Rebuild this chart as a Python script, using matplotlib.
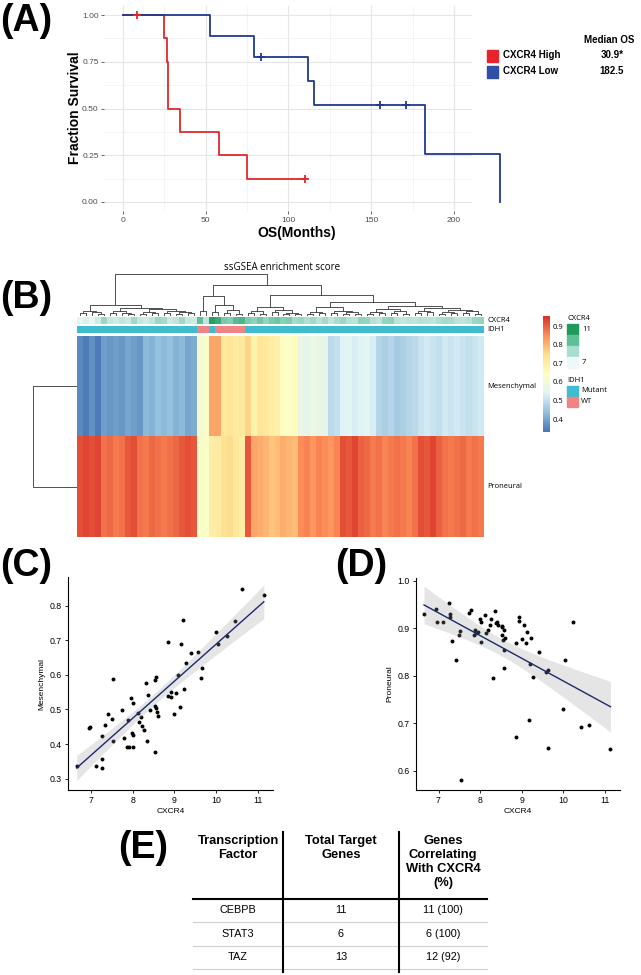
import numpy as np
import matplotlib
matplotlib.use('Agg')
import matplotlib.pyplot as plt
from matplotlib.colors import LinearSegmentedColormap, ListedColormap
from matplotlib.patches import Rectangle

plt.rcParams['font.family'] = ['Liberation Sans', 'DejaVu Sans']

# ---------------- DATA ----------------
# (A) Kaplan-Meier: survival times (months) and event flags (1=death, 0=censored)
high_times = [8.3, 24.5, 26.4, 27.3, 27.3, 34.4, 58.0, 75.0, 110.0]
high_events = [0, 1, 1, 1, 1, 1, 1, 1, 0]
low_times = [52.6, 79.0, 83.6, 112.0, 115.4, 155.3, 171.0, 182.5, 227.8]
low_events = [1, 1, 0, 1, 1, 0, 0, 1, 1]
km_groups = ['CXCR4 High', 'CXCR4 Low']
median_os = ['30.9*', '182.5']

# (B) heatmap of ssGSEA scores (68 samples, clustered order)
mes_scores = [0.36, 0.34, 0.37, 0.34, 0.39, 0.38, 0.39, 0.38, 0.40, 0.39, 0.38, 0.43, 0.42, 0.44,
              0.43, 0.44, 0.42, 0.43, 0.40, 0.41, 0.61, 0.62, 0.82, 0.82, 0.72, 0.73, 0.71, 0.72,
              0.76, 0.68, 0.73, 0.72, 0.70, 0.69, 0.64, 0.63, 0.65, 0.57, 0.56, 0.58, 0.57, 0.56,
              0.49, 0.50, 0.54, 0.55, 0.53, 0.54, 0.55, 0.53, 0.48, 0.47, 0.48, 0.46, 0.47, 0.48,
              0.49, 0.51, 0.52, 0.51, 0.50, 0.52, 0.51, 0.52, 0.51, 0.50, 0.51, 0.52]
pro_scores = [0.92, 0.93, 0.92, 0.93, 0.88, 0.89, 0.87, 0.88, 0.91, 0.92, 0.88, 0.87, 0.89, 0.88,
              0.87, 0.88, 0.89, 0.91, 0.92, 0.91, 0.62, 0.63, 0.70, 0.71, 0.74, 0.75, 0.72, 0.70,
              0.91, 0.82, 0.81, 0.80, 0.78, 0.79, 0.81, 0.80, 0.79, 0.85, 0.86, 0.84, 0.86, 0.85,
              0.84, 0.86, 0.92, 0.91, 0.93, 0.90, 0.89, 0.87, 0.88, 0.86, 0.87, 0.88, 0.87, 0.86,
              0.88, 0.92, 0.91, 0.93, 0.90, 0.88, 0.87, 0.88, 0.89, 0.87, 0.88, 0.87]
cxcr4_annot = [7.2, 7.4, 7.1, 7.6, 8.6, 7.8, 7.6, 7.9, 7.7, 8.5, 7.8, 7.6, 7.9, 8.6, 8.4, 7.7, 7.9,
               8.5, 7.8, 7.6, 9.6, 7.9, 10.8, 10.4, 9.2, 9.0, 9.8, 10.0, 9.1, 8.8, 9.3, 8.7, 9.2,
               9.4, 8.9, 9.1, 8.4, 8.6, 8.2, 8.5, 8.0, 8.4, 7.9, 8.3, 8.6, 8.1, 8.0, 8.8, 8.7, 8.1,
               7.9, 8.7, 8.8, 8.0, 7.8, 8.0, 7.9, 8.1, 8.0, 7.9, 8.2, 8.4, 8.3, 8.0, 7.9, 8.1, 8.6, 8.7]
idh1_wt = [0] * 20 + [1, 1, 0, 1, 1, 1, 1, 1] + [0] * 40
row_names = ['Mesenchymal', 'Proneural']
# column dendrogram: [height, left, right], leaves = column index
col_tree = [42,
            [11, [5, [3, 0, 1], [4, 2, [2, 3, 4]]],
                 [8, [5, [3, 5, 6], [3, 7, [2, 8, 9]]],
                     [7, [4, [2, 10, 11], [3, 12, 13]], [5, [3, 14, 15], [4, [2, 16, 17], [3, 18, 19]]]]]],
            [31,
             [20, [5, 20, 21], [11, [4, 22, 23], [6, [3, 24, 25], [2, 26, 27]]]],
             [21,
              [9, [5, [3, 28, 29], [2, 30, 31]], [6, [4, 32, 33], [3, [2, 34, 35], [2, 36, 37]]]],
              [14,
               [9, [4, [2, 38, 39], [3, 40, 41]], [5, [3, 42, 43], [4, [2, 44, 45], [2, 46, 47]]]],
               [10, [7, [4, [2, 48, 49], [3, 50, 51]], [5, [3, 52, 53], [2, 54, 55]]],
                    [8, [5, [3, 56, 57], [4, 58, 59]],
                        [6, [4, [2, 60, 61], [3, 62, 63]], [5, [3, 64, 65], [2, 66, 67]]]]]]]]]
row_tree = [1, 0, 1]

# (C) CXCR4 vs Mesenchymal
c_x = [6.66, 6.96, 6.98, 7.12, 7.26, 7.27, 7.27, 7.33, 7.42, 7.50, 7.54, 7.54, 7.74, 7.79, 7.87,
       7.92, 8.00, 7.90, 7.96, 7.98, 8.02, 8.01, 8.14, 8.15, 8.19, 8.23, 8.27, 8.34, 8.32, 8.37,
       8.42, 8.54, 8.57, 8.54, 8.54, 8.56, 8.58, 8.62, 8.84, 8.86, 8.92, 8.93, 9.00, 9.05, 9.10,
       9.13, 9.17, 9.21, 9.23, 9.28, 9.40, 9.58, 9.66, 9.65, 10.00, 10.05, 10.27, 10.46, 10.63, 11.15]
c_y = [0.336, 0.447, 0.450, 0.337, 0.331, 0.358, 0.424, 0.455, 0.487, 0.471, 0.587, 0.409, 0.497,
       0.416, 0.391, 0.392, 0.391, 0.470, 0.534, 0.431, 0.427, 0.518, 0.491, 0.465, 0.479, 0.452,
       0.441, 0.409, 0.576, 0.542, 0.497, 0.585, 0.595, 0.378, 0.510, 0.503, 0.494, 0.481, 0.696,
       0.540, 0.550, 0.535, 0.487, 0.548, 0.600, 0.508, 0.690, 0.760, 0.560, 0.635, 0.663, 0.666,
       0.620, 0.590, 0.725, 0.688, 0.712, 0.757, 0.847, 0.830]

# (D) CXCR4 vs Proneural
d_x = [6.65, 6.95, 6.97, 7.11, 7.26, 7.27, 7.28, 7.32, 7.50, 7.52, 7.42, 7.54, 7.74, 7.79, 7.88,
       7.91, 7.86, 7.96, 8.00, 8.02, 8.02, 8.13, 8.18, 8.15, 8.26, 8.23, 8.37, 8.38, 8.41, 8.43,
       8.32, 8.52, 8.54, 8.52, 8.55, 8.58, 8.61, 8.58, 8.58, 8.87, 8.86, 8.94, 8.94, 9.01, 9.06,
       9.10, 9.13, 9.22, 9.17, 9.21, 9.27, 9.41, 9.58, 9.64, 9.64, 10.00, 10.05, 10.25, 10.44,
       10.62, 11.14]
d_y = [0.931, 0.940, 0.914, 0.914, 0.953, 0.930, 0.923, 0.873, 0.885, 0.894, 0.833, 0.580, 0.933,
       0.938, 0.897, 0.889, 0.885, 0.892, 0.919, 0.913, 0.871, 0.928, 0.897, 0.890, 0.919, 0.907,
       0.936, 0.912, 0.914, 0.907, 0.796, 0.904, 0.902, 0.886, 0.876, 0.897, 0.880, 0.854, 0.817,
       0.870, 0.670, 0.923, 0.916, 0.878, 0.907, 0.870, 0.892, 0.879, 0.706, 0.825, 0.798, 0.851,
       0.808, 0.811, 0.648, 0.729, 0.833, 0.914, 0.691, 0.696, 0.646]

# (E) table
tf_names = ['CEBPB', 'STAT3', 'TAZ']
total_targets = [11, 6, 13]
correlating = [11, 6, 12]
correlating_pct = [100, 100, 92]
table_headers = ['Transcription\nFactor', 'Total Target\nGenes', 'Genes\nCorrelating\nWith CXCR4\n(%)']

# ---------------- FIGURE ----------------
W, H = 641, 975
fig = plt.figure(figsize=(W / 100, H / 100), dpi=100)


def px_axes(x0, y0, x1, y1):
    return fig.add_axes([x0 / W, 1 - y1 / H, (x1 - x0) / W, (y1 - y0) / H])


def ftext(x, y, s, **kw):
    return fig.text(x / W, 1 - y / H, s, **kw)


# panel labels
for lab, x, y in [('(A)', 0, 21), ('(B)', 0, 298), ('(C)', 0, 566), ('(D)', 335, 566), ('(E)', 118, 848)]:
    ftext(x, y, lab, fontsize=27, fontweight='bold', ha='left', va='center')

# ---------------- (A) ----------------
RED, BLUE = '#e3262b', '#1f3a8f'


def km(times, events):
    t = np.asarray(times, float)
    e = np.asarray(events)
    n = len(t)
    s = 1.0
    xs, ys, cx, cy = [0.0], [1.0], [], []
    for u in np.unique(t):
        d = int(np.sum((t == u) & (e == 1)))
        c = int(np.sum((t == u) & (e == 0)))
        if d:
            s *= (n - d) / n
        xs.append(u)
        ys.append(s)
        if c:
            cx.append(u)
            cy.append(s)
        n -= d + c
    return xs, ys, cx, cy


axA = px_axes(104.3, 5.65, 472, 211.35)
axA.set_xlim(-11.3, 210.9)
axA.set_ylim(-0.05, 1.05)
for times, events, col in [(high_times, high_events, RED), (low_times, low_events, BLUE)]:
    xs, ys, cx, cy = km(times, events)
    axA.step(xs, ys, where='post', color=col, lw=1.3, clip_on=False, zorder=3)
    axA.plot(cx, cy, '+', color=col, ms=6, mew=1.3, clip_on=False, zorder=4)
axA.set_xticks([0, 50, 100, 150, 200])
axA.set_xticks([25, 75, 125, 175], minor=True)
axA.set_yticks([0, 0.25, 0.5, 0.75, 1.0])
axA.set_yticks([0.125, 0.375, 0.625, 0.875], minor=True)
axA.set_yticklabels(['0.00', '0.25', '0.50', '0.75', '1.00'])
axA.grid(which='major', color='#e6e6e6', lw=0.8)
axA.grid(which='minor', color='#f0f0f0', lw=0.5)
axA.set_axisbelow(True)
for sp in axA.spines.values():
    sp.set_visible(False)
axA.tick_params(which='major', labelsize=6, colors='#4d4d4d', length=2.5, width=0.6, pad=1.5)
axA.tick_params(which='minor', length=0)
ftext(75, 108, 'Fraction Survival', fontsize=10, fontweight='bold', rotation=90, ha='center', va='center')
ftext(297, 233, 'OS(Months)', fontsize=10, fontweight='bold', ha='center', va='center')

# legend
ftext(609, 40, 'Median OS', fontsize=7, fontweight='bold', ha='center', va='center')
ov = px_axes(0, 0, W, H)
ov.set_xlim(0, W)
ov.set_ylim(H, 0)
ov.axis('off')
ov.patch.set_alpha(0)
for i, (g, m, col) in enumerate(zip(km_groups, median_os, ['#e8242a', '#3050a8'])):
    yc = 55.5 + i * 16
    ov.add_patch(Rectangle((487, yc - 6), 11, 12, color=col))
    ftext(503, yc, g, fontsize=7, fontweight='bold', ha='left', va='center')
    ftext(612, yc, m, fontsize=7, fontweight='bold', ha='center', va='center')

# ---------------- (B) ----------------
ph_cmap = LinearSegmentedColormap.from_list(
    'ph', ['#4575b4', '#91bfdb', '#e0f3f8', '#ffffbf', '#fee090', '#fc8d59', '#d73027'])
cx_cmap = LinearSegmentedColormap.from_list('cx', ['#eef8f6', '#a9ddd2', '#5fbf97', '#1f9a5a'])
idh_cmap = ListedColormap(['#3fbccf', '#ee8484'])
ncol = len(mes_scores)
VMIN, VMAX = 0.33, 0.955

axH = px_axes(77, 336, 484, 537)
im = axH.imshow(np.vstack([mes_scores, pro_scores]), cmap=ph_cmap, vmin=VMIN, vmax=VMAX,
                aspect='auto', interpolation='nearest')
axH.axis('off')

axC4 = px_axes(77, 317, 484, 324)
axC4.imshow(np.array([cxcr4_annot]), cmap=cx_cmap, vmin=7, vmax=11, aspect='auto', interpolation='nearest')
axC4.axis('off')
axI = px_axes(77, 326, 484, 333)
axI.imshow(np.array([idh1_wt]), cmap=idh_cmap, vmin=0, vmax=1, aspect='auto', interpolation='nearest')
axI.axis('off')


def draw_tree(ax, node, horizontal=True):
    if isinstance(node, int):
        return node + 0.5, 0.0
    h, l, r = node
    xl, hl = draw_tree(ax, l, horizontal)
    xr, hr = draw_tree(ax, r, horizontal)
    if horizontal:
        ax.plot([xl, xl, xr, xr], [hl, h, h, hr], color='#333333', lw=0.6, solid_capstyle='butt')
    else:
        ax.plot([hl, h, h, hr], [xl, xl, xr, xr], color='#333333', lw=0.6, solid_capstyle='butt')
    return (xl + xr) / 2, h


axD1 = px_axes(77, 272, 484, 316)
axD1.set_xlim(0, ncol)
axD1.set_ylim(0, 44)
draw_tree(axD1, col_tree)
axD1.axis('off')

axD2 = px_axes(33, 336, 77, 537)
axD2.set_ylim(2, 0)
axD2.set_xlim(row_tree[0], 0)
draw_tree(axD2, row_tree, horizontal=False)
axD2.axis('off')

BF = ['Open Sans', 'DejaVu Sans']
ftext(282, 268, 'ssGSEA enrichment score', fontsize=7, ha='center', va='center', family=BF)
for name, yc in zip(row_names, [386, 487]):
    ftext(487, yc, name, fontsize=5.5, ha='left', va='center', family=BF)
ftext(487, 320, 'CXCR4', fontsize=5.5, ha='left', va='center', family=BF)
ftext(487, 329.5, 'IDH1', fontsize=5.5, ha='left', va='center', family=BF)

cax = px_axes(543, 316, 550, 432)
cb = fig.colorbar(im, cax=cax)
cb.outline.set_visible(False)
cb.set_ticks([0.4, 0.5, 0.6, 0.7, 0.8, 0.9])
cb.ax.tick_params(length=0, labelsize=5.5, pad=2)
for t in cb.ax.get_yticklabels():
    t.set_family(BF)

# annotation legends
ftext(567, 318, 'CXCR4', fontsize=5.5, ha='left', va='center', family=BF)
cx_levels = [11, 9.67, 8.33, 7]
cx_labels = ['11', '', '', '7']
for i, (lv, lb) in enumerate(zip(cx_levels, cx_labels)):
    y0 = 324 + i * 11
    ov.add_patch(Rectangle((567, y0), 11, 11, color=cx_cmap((lv - 7) / 4)))
    if lb:
        ftext(582, y0 + 5.5, lb, fontsize=5.5, ha='left', va='center', family=BF)
ftext(567, 380, 'IDH1', fontsize=5.5, ha='left', va='center', family=BF)
for i, lb in enumerate(['Mutant', 'WT']):
    y0 = 386 + i * 10.5
    ov.add_patch(Rectangle((567, y0), 11, 10.5, color=idh_cmap(i)))
    ftext(581, y0 + 5, lb, fontsize=5.5, ha='left', va='center', family=BF)


# ---------------- (C) & (D) ----------------
def fit_band(x, y):
    x = np.asarray(x)
    y = np.asarray(y)
    n = len(x)
    b, a = np.polyfit(x, y, 1)
    xs = np.linspace(x.min(), x.max(), 100)
    yh = a + b * xs
    s = np.sqrt(np.sum((y - (a + b * x)) ** 2) / (n - 2))
    se = s * np.sqrt(1 / n + (xs - x.mean()) ** 2 / np.sum((x - x.mean()) ** 2))
    return xs, yh, yh - 2.0 * se, yh + 2.0 * se


def scatter_panel(box, x, y, ylim, yticks, ylabel):
    ax = px_axes(*box)
    ax.scatter(x, y, s=8, color='black', lw=0, zorder=2)
    xs, yh, lo, hi = fit_band(x, y)
    ax.fill_between(xs, lo, hi, color='#9a9a9a', alpha=0.25, lw=0, zorder=3)
    ax.plot(xs, yh, color='#1b2b6b', lw=1.0, zorder=4)
    ax.set_xlim(6.45, 11.37)
    ax.set_ylim(*ylim)
    ax.set_xticks([7, 8, 9, 10, 11])
    ax.set_yticks(yticks)
    ax.spines['top'].set_visible(False)
    ax.spines['right'].set_visible(False)
    for sp in ['left', 'bottom']:
        ax.spines[sp].set_linewidth(0.8)
    ax.tick_params(labelsize=6.3, length=2.5, width=0.6, pad=2)
    ax.set_xlabel('CXCR4', fontsize=6, labelpad=2)
    ax.set_ylabel(ylabel, fontsize=6, labelpad=3)
    return ax


scatter_panel((68, 577, 273, 790), c_x, c_y, (0.267, 0.883), [0.3, 0.4, 0.5, 0.6, 0.7, 0.8], 'Mesenchymal')
scatter_panel((415.7, 578, 620, 790), d_x, d_y, (0.559, 1.006), [0.6, 0.7, 0.8, 0.9, 1.0], 'Proneural')

# ---------------- (E) table ----------------
col_edges = [193, 283, 399, 487]
col_centers = [(col_edges[i] + col_edges[i + 1]) / 2 for i in range(3)]
for hdr, xc in zip(table_headers, col_centers):
    ftext(xc, 835, hdr, fontsize=9.3, fontweight='bold', ha='center', va='top', linespacing=1.22)
ov.plot([col_edges[0], col_edges[-1]], [899, 899], color='black', lw=1.5)
row_y = [910, 934, 957]
for i, yc in enumerate(row_y):
    cells = [tf_names[i], str(total_targets[i]), f'{correlating[i]} ({correlating_pct[i]})']
    for c, xc in zip(cells, col_centers):
        ftext(xc, yc, c, fontsize=7.8, ha='center', va='center')
    ov.plot([col_edges[0], col_edges[-1]], [yc + 12, yc + 12], color='#d0d0d0', lw=0.8)
for xe in col_edges[1:3]:
    ov.plot([xe, xe], [832, 972], color='black', lw=1.5)

fig.savefig('out.png', dpi=100)
